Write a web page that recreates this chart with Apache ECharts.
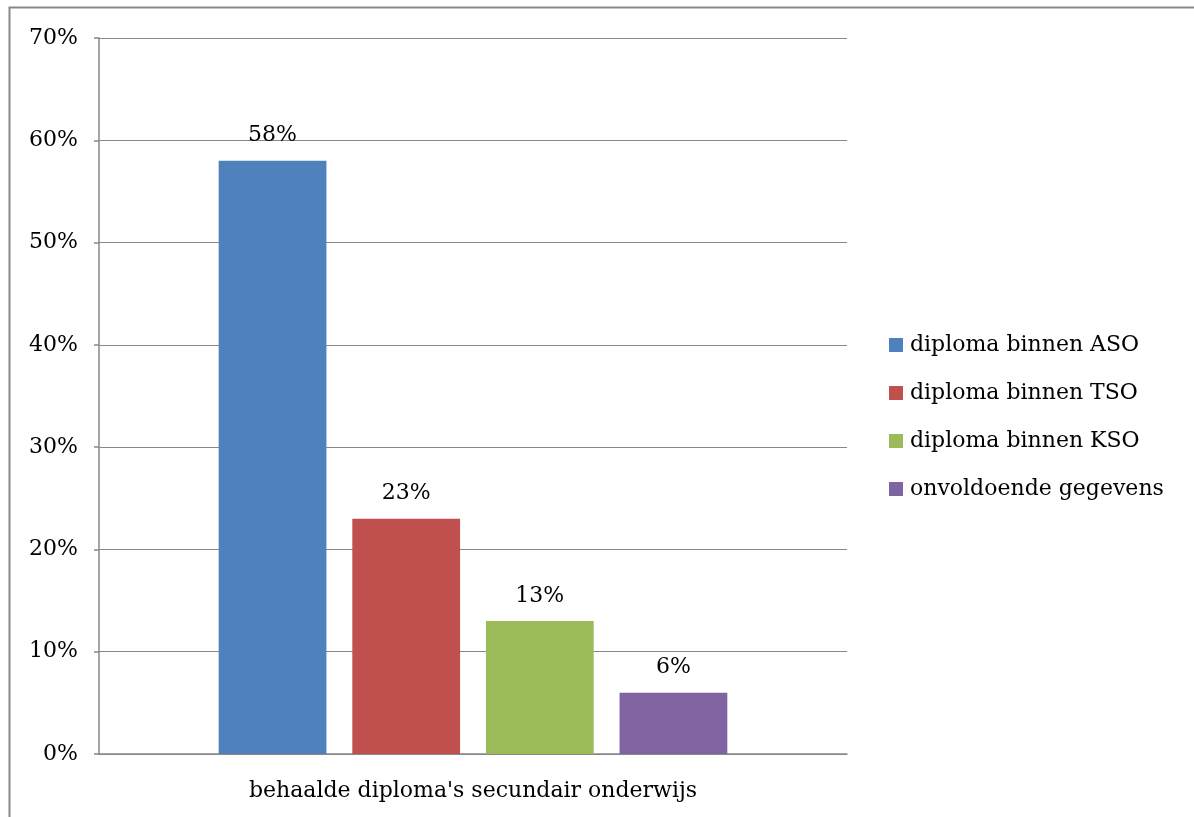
<!DOCTYPE html>
<html>
<head>
<meta charset="utf-8">
<script src="https://cdn.jsdelivr.net/npm/echarts@6/dist/echarts.min.js"></script>
<style>
html,body{margin:0;padding:0;background:#fff;}
#chart{width:1194px;height:817px;}
</style>
</head>
<body>
<div id="chart"></div>
<script>
const categories = ["behaalde diploma's secundair onderwijs"];
const seriesNames = ["diploma binnen ASO", "diploma binnen TSO", "diploma binnen KSO", "onvoldoende gegevens"];
const seriesValues = [[58], [23], [13], [6]];
const colors = ["#4F81BD", "#C0504D", "#9BBB59", "#8064A2"];
const yTicks = [0, 10, 20, 30, 40, 50, 60, 70];

const FONT = "DejaVu Serif";
const chart = echarts.init(document.getElementById('chart'));
const series = seriesNames.map((n, i) => ({
  name: n,
  type: 'bar',
  data: seriesValues[i],
  barGap: '24%',
  barCategoryGap: '32%',
  itemStyle: { color: colors[i] },
  label: {
    show: true, position: 'top', distance: 14,
    formatter: p => p.value + '%',
    fontFamily: FONT, fontSize: 22, color: '#000'
  }
}));
chart.setOption({
  animation: false,
  textStyle: { fontFamily: FONT },
  graphic: [{
    type: 'rect', shape: { x: 9.5, y: 7.5, width: 1300, height: 900 },
    style: { fill: 'none', stroke: '#888', lineWidth: 2 }, silent: true
  }],
  grid: { left: 99, right: 347, top: 38, bottom: 63 },
  legend: {
    orient: 'vertical', left: 884, top: 329,
    itemWidth: 14, itemHeight: 14, itemGap: 26,
    icon: 'rect',
    textStyle: { fontFamily: FONT, fontSize: 22, color: '#000', padding: [0, 0, 0, 2] },
    data: seriesNames
  },
  xAxis: {
    type: 'category', data: categories,
    axisLine: { lineStyle: { color: '#888', width: 1.5 } },
    axisTick: { show: false },
    axisLabel: { fontFamily: FONT, fontSize: 22, color: '#000', margin: 26 }
  },
  yAxis: {
    type: 'value', min: 0, max: 70, interval: 10,
    axisLine: { show: true, lineStyle: { color: '#888', width: 1.5 } },
    axisTick: { show: true, length: 5, lineStyle: { color: '#888', width: 1.5 } },
    splitLine: { lineStyle: { color: '#888', width: 1 } },
    axisLabel: {
      fontFamily: FONT, fontSize: 22, color: '#000', margin: 21,
      formatter: v => yTicks.includes(v) ? v + '%' : ''
    }
  },
  series: series
});
</script>
</body>
</html>
